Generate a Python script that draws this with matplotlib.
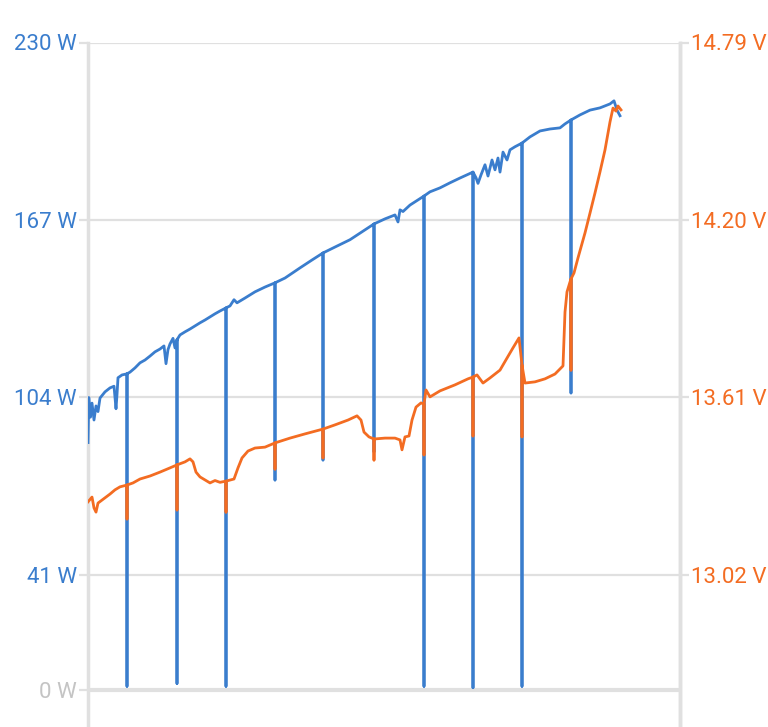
import matplotlib.pyplot as plt

# time in minutes, power in W (blue), voltage in V (orange)
power_t = [0.0, 0.2, 0.6, 1.0, 1.5, 2.0, 2.5, 3.0, 4.25, 5.5, 6.5, 7.0, 7.25, 7.5, 8.5,
           9.75, 9.75, 9.75, 10.5, 11.75, 13.0, 14.25, 15.5, 16.75, 18.0, 19.0, 19.5, 20.0,
           20.5, 21.25, 21.75, 22.25, 22.25, 22.25, 23.0, 24.25, 25.5, 26.75, 28.0, 29.25,
           30.5, 31.75, 33.0, 34.5, 34.5, 34.5, 35.5, 36.5, 37.25, 39.25, 41.75, 44.25,
           46.75, 46.75, 46.75, 49.25, 53.0, 56.0, 58.75, 58.75, 58.75, 61.75, 65.5, 68.5,
           71.5, 71.5, 71.5, 74.25, 76.75, 77.5, 78.0, 78.75, 80.5, 84.0, 84.0, 84.0, 85.5,
           88.0, 90.5, 93.0, 96.25, 96.25, 96.25, 97.0, 97.5, 98.25, 99.25, 100.0, 101.0,
           101.75, 102.5, 103.0, 103.75, 104.75, 105.5, 106.75, 108.5, 108.5, 108.5, 110.5,
           113.0, 115.5, 118.0, 119.25, 120.75, 120.75, 120.75, 123.0, 125.5, 128.0, 130.5,
           131.5, 132.25, 133.0]
power_w = [88, 104, 97, 102, 96, 101, 99, 103.8, 106, 107.4, 108, 100, 105, 111, 112,
           112.4, 1.5, 112.4, 113, 114.5, 116.3, 117.3, 118.7, 120.2, 121.2, 122.3, 116, 121,
           123, 125, 121.6, 124.5, 2.5, 124.5, 126.2, 127.3, 128.3, 129.4, 130.5, 131.5,
           132.6, 133.7, 134.7, 135.8, 1.5, 135.8, 136.5, 138.7, 137.6, 139.3, 141.5, 143.2,
           144.7, 74.7, 144.7, 146.4, 150, 152.8, 155.3, 81.8, 155.3, 157.4, 160, 162.8,
           165.6, 84.7, 165.6, 167.4, 168.8, 166.3, 170.6, 170, 172.3, 175.5, 1.5, 175.5, 177,
           178.4, 180.2, 181.9, 184, 1.0, 184, 182, 180, 183, 186.6, 182.6, 188.3,
           184.8, 189, 184, 191.1, 188.3, 191.9, 193, 194.3, 1.5, 194.3, 196.5,
           198.6, 199.3, 199.7, 201.1, 202.5, 105.6, 202.5, 204.3, 206, 206.8, 208.2,
           209.3, 206, 204]

volt_t = [0.0, 1.0, 1.5, 2.0, 2.5, 3.5, 5.5, 6.75, 8.0, 9.75, 9.75, 9.75, 11.25, 13.0,
          15.5, 18.0, 20.5, 22.25, 22.25, 22.25, 24.25, 25.5, 26.25, 27.0, 28.0, 29.25,
          30.5, 31.75, 33.0, 34.5, 34.5, 34.5, 36.5, 37.5, 38.5, 40.0, 41.75, 44.25, 46.75,
          46.75, 46.75, 50.5, 54.25, 58.75, 58.75, 58.75, 61.75, 65.0, 67.25, 68.25, 69.0,
          70.25, 71.5, 71.5, 71.5, 74.25, 76.75, 78.0, 78.5, 79.25, 80.25, 81.0, 82.0, 83.25,
          84.0, 84.0, 84.0, 84.5, 85.5, 88.0, 91.75, 95.0, 96.25, 96.25, 96.25, 97.25, 98.75,
          100.5, 103.0, 104.75, 106.25, 107.75, 108.5, 108.5, 108.5, 109.25, 111.75, 114.25,
          116.75, 118.75, 119.25, 119.75, 120.5, 120.75, 120.75, 120.75, 121.5, 122.5,
          124.25, 125.5, 126.75, 128.0, 129.25, 130.5, 131.25, 132.0, 132.5, 133.25]
volt_v = [13.263, 13.279, 13.243, 13.229, 13.259, 13.269, 13.289, 13.303, 13.313, 13.319,
          13.206, 13.319, 13.326, 13.339, 13.349, 13.362, 13.376, 13.386, 13.236, 13.386,
          13.396, 13.406, 13.396, 13.362, 13.346, 13.336, 13.326, 13.334, 13.328, 13.332,
          13.229, 13.332, 13.339, 13.376, 13.409, 13.432, 13.442, 13.445, 13.459, 13.372,
          13.459, 13.475, 13.489, 13.505, 13.409, 13.505, 13.519, 13.535, 13.549, 13.535,
          13.495, 13.479, 13.472, 13.402, 13.472, 13.475, 13.475, 13.469, 13.436, 13.479,
          13.482, 13.535, 13.578, 13.592, 13.588, 13.419, 13.588, 13.635, 13.612, 13.632,
          13.652, 13.672, 13.678, 13.482, 13.678, 13.685, 13.658, 13.675, 13.701, 13.741,
          13.775, 13.808, 13.718, 13.479, 13.718, 13.658, 13.662, 13.672, 13.688, 13.715,
          13.894, 13.961, 13.994, 14.004, 13.701, 14.004, 14.024, 14.074, 14.157, 14.223,
          14.290, 14.360, 14.433, 14.526, 14.572, 14.562, 14.579, 14.566]

power_ticks = [0, 41, 104, 167, 230]
power_labels = ['0 W', '41 W', '104 W', '167 W', '230 W']
volt_ticks = [13.02, 13.61, 14.20, 14.79]
volt_labels = ['13.02 V', '13.61 V', '14.20 V', '14.79 V']

blue = '#3a7dcd'
orange = '#f36c22'
grid = '#e0e0e0'

plt.rcParams['font.family'] = ['Roboto', 'DejaVu Sans']

fig = plt.figure(figsize=(7.68, 7.27), dpi=100)
ax = fig.add_axes([88 / 768, 0, 592 / 768, (727 - 42.5) / 727])
ax.set_xlim(0, 148)
ax.set_ylim(-12.96, 230)

ax.set_yticks(power_ticks)
ax.set_yticklabels(power_labels)
ax.set_xticks([])
ax.grid(axis='y', color=grid, linewidth=1.6)
ax.axhline(0, color=grid, linewidth=3, zorder=1)
ax.tick_params(axis='y', length=6.5, width=1.6, color=grid, pad=1.5,
               labelsize=16, labelcolor=blue)
ax.get_yticklabels()[0].set_color('#c4c4c4')
for s in ['top', 'bottom']:
    ax.spines[s].set_visible(False)
for s in ['left', 'right']:
    ax.spines[s].set_color(grid)
    ax.spines[s].set_linewidth(2.5)

ax.plot(power_t, power_w, color=blue, linewidth=2.0, zorder=3)

ax2 = ax.twinx()
ax2.set_ylim(12.5147, 14.79)
ax2.set_yticks(volt_ticks)
ax2.set_yticklabels(volt_labels)
ax2.tick_params(axis='y', length=6.5, width=1.6, color=grid, pad=1.5,
                labelsize=16, labelcolor=orange)
for s in ['top', 'bottom', 'left']:
    ax2.spines[s].set_visible(False)
ax2.spines['right'].set_color(grid)
ax2.spines['right'].set_linewidth(2.5)
ax2.plot(volt_t, volt_v, color=orange, linewidth=2.0, zorder=3)

fig.savefig('out.png', dpi=100)
